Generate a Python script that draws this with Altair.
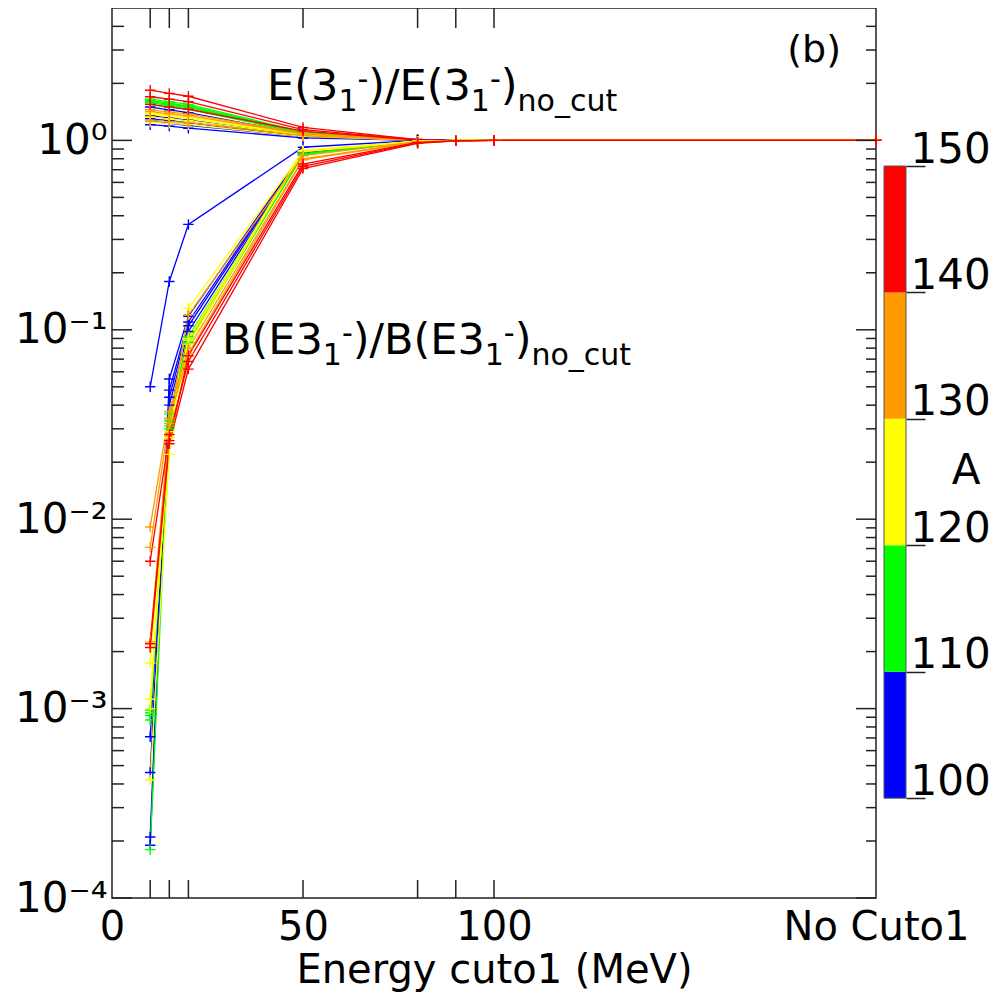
import altair as alt
import pandas as pd

# ---------------- data ----------------
X_CUTS = [10, 15, 20, 50, 80, 90, 100, 200]          # 200 = "No Cuto1"
NUCLEI_A = [100, 102, 104, 106, 108, 110, 112, 114, 116, 118,
            120, 122, 124, 126, 130, 132, 134, 140, 144, 148]

E_RATIO = [
    [1.21, 1.19, 1.16, 1.03, 1.000, 1.0, 1.0, 1.0],
    [1.50, 1.45, 1.40, 1.08, 1.000, 1.0, 1.0, 1.0],
    [1.26, 1.23, 1.20, 1.05, 1.000, 1.0, 1.0, 1.0],
    [1.30, 1.27, 1.24, 1.05, 1.000, 1.0, 1.0, 1.0],
    [1.35, 1.31, 1.28, 1.06, 1.000, 1.0, 1.0, 1.0],
    [1.58, 1.53, 1.49, 1.10, 1.000, 1.0, 1.0, 1.0],
    [1.62, 1.57, 1.52, 1.10, 1.005, 1.0, 1.0, 1.0],
    [1.65, 1.60, 1.55, 1.11, 1.005, 1.0, 1.0, 1.0],
    [1.60, 1.55, 1.51, 1.10, 1.000, 1.0, 1.0, 1.0],
    [1.55, 1.50, 1.46, 1.09, 1.000, 1.0, 1.0, 1.0],
    [1.40, 1.36, 1.33, 1.08, 1.000, 1.0, 1.0, 1.0],
    [1.33, 1.30, 1.27, 1.07, 1.000, 1.0, 1.0, 1.0],
    [1.25, 1.23, 1.21, 1.05, 1.000, 1.0, 1.0, 1.0],
    [1.37, 1.34, 1.31, 1.07, 1.000, 1.0, 1.0, 1.0],
    [1.45, 1.41, 1.38, 1.09, 1.000, 1.0, 1.0, 1.0],
    [1.28, 1.26, 1.24, 1.06, 1.000, 1.0, 1.0, 1.0],
    [1.42, 1.38, 1.35, 1.08, 1.000, 1.0, 1.0, 1.0],
    [1.55, 1.50, 1.46, 1.12, 1.005, 1.0, 1.0, 1.0],
    [1.70, 1.65, 1.60, 1.14, 1.010, 1.0, 1.0, 1.0],
    [1.84, 1.77, 1.71, 1.17, 1.010, 1.0, 1.0, 1.0],
]

B_RATIO = [
    [5.0e-2, 0.180, 0.360, 0.920, 1.000, 1.000, 1.0, 1.0],
    [2.1e-4, 0.055, 0.118, 0.870, 0.995, 1.000, 1.0, 1.0],
    [1.9e-4, 0.048, 0.110, 0.865, 0.995, 1.000, 1.0, 1.0],
    [4.6e-4, 0.044, 0.105, 0.860, 0.995, 1.000, 1.0, 1.0],
    [7.1e-4, 0.040, 0.098, 0.855, 0.995, 1.000, 1.0, 1.0],
    [1.8e-4, 0.036, 0.092, 0.850, 0.990, 1.000, 1.0, 1.0],
    [8.7e-4, 0.034, 0.090, 0.850, 0.990, 1.000, 1.0, 1.0],
    [9.2e-4, 0.033, 0.088, 0.845, 0.990, 1.000, 1.0, 1.0],
    [9.5e-4, 0.031, 0.086, 0.840, 0.990, 1.000, 1.0, 1.0],
    [9.8e-4, 0.030, 0.085, 0.840, 0.990, 1.000, 1.0, 1.0],
    [1.0e-3, 0.029, 0.088, 0.880, 0.990, 1.000, 1.0, 1.0],
    [1.12e-3, 0.028, 0.090, 0.885, 0.990, 1.000, 1.0, 1.0],
    [4.2e-4, 0.022, 0.084, 0.875, 0.990, 1.000, 1.0, 1.0],
    [1.74e-3, 0.027, 0.130, 0.870, 0.990, 1.000, 1.0, 1.0],
    [2.25e-3, 0.032, 0.120, 0.830, 0.985, 0.995, 1.0, 1.0],
    [9.1e-3, 0.037, 0.080, 0.800, 0.980, 0.995, 1.0, 1.0],
    [7.1e-3, 0.034, 0.075, 0.790, 0.980, 0.995, 1.0, 1.0],
    [2.2e-3, 0.026, 0.073, 0.750, 0.975, 0.995, 1.0, 1.0],
    [6.0e-3, 0.028, 0.068, 0.730, 0.970, 0.995, 1.0, 1.0],
    [2.1e-3, 0.025, 0.062, 0.710, 0.965, 0.995, 1.0, 1.0],
]

BIN_EDGES = [100, 110, 120, 130, 140, 150]
BIN_COLORS = ["#0000ff", "#00ff00", "#ffff00", "#ff9a00", "#ff0000"]

Y_MAJOR = [1e-4, 1e-3, 1e-2, 1e-1, 1.0]
Y_LABELS = ["10⁻⁴", "10⁻³", "10⁻²", "10⁻¹", "10⁰"]
Y_MINOR_MULT = [2, 3, 4, 5, 6, 7, 8, 9]
X_TICKS = [0, 50, 100, 200]
X_TICK_LABELS = ["0", "50", "100", "No Cuto1"]
X_MARKS = [10, 15, 20, 50, 80, 90, 100]
CBAR_TICKS = [100, 110, 120, 130, 140, 150]

# ---------------- layout / style ----------------
W, H = 764, 890
FONT = "DejaVu Sans"
FRAME = "#222222"

rows = []
for fam, table in (("E", E_RATIO), ("B", B_RATIO)):
    for a, vals in zip(NUCLEI_A, table):
        for x, v in zip(X_CUTS, vals):
            rows.append({"x": x, "y": v, "A": a, "series": f"{fam}{a}"})
df = pd.DataFrame(rows)

y_minor = [m * d for d in Y_MAJOR[:-1] for m in Y_MINOR_MULT] + [2.0, 3.0, 4.0]

xs = alt.Scale(domain=[0, 200], nice=False, zero=False)
ys = alt.Scale(type="log", domain=[1e-4, 5], nice=False)
cs = alt.Scale(type="threshold", domain=BIN_EDGES[1:-1], range=BIN_COLORS)

y_expr = ""
for v, lab in zip(Y_MAJOR[:-1], Y_LABELS[:-1]):
    y_expr += f"datum.value < {v * 3} ? '{lab}' : "
y_expr += f"'{Y_LABELS[-1]}'"

x_expr = ""
for v, lab in zip(X_TICKS[:-1], X_TICK_LABELS[:-1]):
    x_expr += f"datum.value < {v + 1} ? '{lab}' : "
x_expr += f"'{X_TICK_LABELS[-1]}'"

x_axis = alt.Axis(values=X_TICKS, labelExpr=x_expr, ticks=False, domain=False, grid=False,
                  labelFontSize=40, labelPadding=9, labelFlush=False, labelOverlap=False,
                  labelLimit=400,
                  title="Energy cuto1 (MeV)", titleFontSize=40, titlePadding=3)
y_axis = alt.Axis(values=Y_MAJOR, labelExpr=y_expr, ticks=False, domain=False, grid=False,
                  labelFontSize=42, labelPadding=5, labelOverlap=False, title=None)


def X(field):
    return alt.X(field, scale=xs, axis=x_axis)


def Y(field):
    return alt.Y(field, scale=ys, axis=y_axis)


base = alt.Chart(df)
lines = base.mark_line(strokeWidth=1.3).encode(
    x=X("x:Q"), y=Y("y:Q"),
    color=alt.Color("A:Q", scale=cs, legend=None),
    detail="series:N",
    order="x:Q",
)
points = base.mark_point(shape="M-1,0H1M0,-1V1", filled=False, size=110, strokeWidth=1.4, opacity=1).encode(
    x=X("x:Q"), y=Y("y:Q"),
    color=alt.Color("A:Q", scale=cs, legend=None),
)

ymaj_df = pd.DataFrame({"v": Y_MAJOR})
ymin_df = pd.DataFrame({"v": y_minor})
xmk_df = pd.DataFrame({"v": X_MARKS})


def yticks(data, x0, x1):
    return alt.Chart(data).mark_rule(color=FRAME, strokeWidth=1.5).encode(
        y=Y("v:Q"), x=alt.value(x0), x2=alt.value(x1))


def xticks(data, y0, y1):
    return alt.Chart(data).mark_rule(color=FRAME, strokeWidth=1.5).encode(
        x=X("v:Q"), y=alt.value(y0), y2=alt.value(y1))


tick_layers = [
    yticks(ymaj_df, 0, 20), yticks(ymin_df, 0, 12),
    yticks(ymaj_df, W - 20, W), yticks(ymin_df, W - 10, W),
    xticks(xmk_df, 0, 20), xticks(xmk_df, H - 18, H),
]

# ---- annotations (text with sub/superscripts built from pieces) ----
ADV = {"E": 0.632, "(": 0.390, ")": 0.390, "3": 0.636, "1": 0.636, "/": 0.337, "B": 0.686,
       "-": 0.361, "n": 0.634, "o": 0.612, "_": 0.500, "c": 0.550, "u": 0.634, "t": 0.392, "b": 0.635}
F_MAIN, F_SUB, SUB_DY, SUP_DY = 43, 30, 11, -11


def rich_label(x, y, parts):
    d = pd.DataFrame({"x": [x], "y": [y]})
    layers, dx = [], 0.0
    for txt, kind in parts:
        size = F_MAIN if kind == "n" else F_SUB
        dy = {"n": 0, "sub": SUB_DY, "sup": SUP_DY}[kind]
        layers.append(alt.Chart(d).mark_text(text=txt, font=FONT, fontSize=size, dx=dx, dy=dy,
                                             align="left", baseline="alphabetic", color="black").encode(
            x=X("x:Q"), y=Y("y:Q")))
        dx += sum(ADV.get(ch, 0.6) for ch in txt) * size
    return layers


E_LABEL_POS = (40.6, 1.63)
B_LABEL_POS = (28.8, 0.0745)
B_TAG_POS = (183.8, 2.58)

e_parts = [("E(3", "n"), ("1", "sub"), ("-", "sup"), (")/E(3", "n"), ("1", "sub"), ("-", "sup"),
           (")", "n"), ("no_cut", "sub")]
b_parts = [("B(E3", "n"), ("1", "sub"), ("-", "sup"), (")/B(E3", "n"), ("1", "sub"), ("-", "sup"),
           (")", "n"), ("no_cut", "sub")]

tag = alt.Chart(pd.DataFrame({"x": [B_TAG_POS[0]], "y": [B_TAG_POS[1]]})).mark_text(
    text="(b)", font=FONT, fontSize=38, align="center", baseline="alphabetic", color="black").encode(
    x=X("x:Q"), y=Y("y:Q"))

inner = alt.layer(lines, points, *tick_layers,
                  *rich_label(*E_LABEL_POS, e_parts), *rich_label(*B_LABEL_POS, b_parts), tag)

# ---- colour bar ----
CBAR_DOMAIN = [92.1, 162.5]
cb_scale = alt.Scale(domain=CBAR_DOMAIN, nice=False, zero=False)
cbar_df = pd.DataFrame({"lo": BIN_EDGES[:-1], "hi": BIN_EDGES[1:]})
cbar = alt.Chart(cbar_df).mark_rect().encode(
    y=alt.Y("lo:Q", scale=cb_scale,
            axis=alt.Axis(orient="right", values=CBAR_TICKS, offset=30, domain=False, grid=False,
                          ticks=True, tickSize=19, tickColor=FRAME, tickWidth=1.5,
                          labelPadding=-15, labelBaseline="alphabetic", labelOffset=-4,
                          labelAlign="left", labelFontSize=42, labelOverlap=False,
                          title="A", titleAngle=0, titleFontSize=42, titleX=74, titleY=462,
                          titleAlign="right", titleBaseline="middle")),
    y2="hi:Q",
    x=alt.value(W + 8), x2=alt.value(W + 30),
    color=alt.Color("lo:Q", scale=cs, legend=None),
)
cbar_frame = alt.Chart(pd.DataFrame({"lo": [BIN_EDGES[0]], "hi": [BIN_EDGES[-1]]})).mark_rect(
    fillOpacity=0, stroke="#555555", strokeWidth=1).encode(
    y=alt.Y("lo:Q", scale=cb_scale), y2="hi:Q",
    x=alt.value(W + 8), x2=alt.value(W + 30),
)
cbar_layer = alt.layer(cbar, cbar_frame)

chart = alt.layer(inner, cbar_layer).resolve_scale(y="independent").properties(
    width=W, height=H,
    padding={"left": 104, "top": 0, "right": 120, "bottom": 94},
    autosize=alt.AutoSizeParams(type="none"),
).configure_view(stroke=FRAME, strokeWidth=1.5).configure_axis(
    labelFont=FONT, titleFont=FONT, labelColor="black", titleColor="black",
    titleFontWeight="normal", labelFontWeight="normal")

chart.save("out.html", embed_options={"renderer": "svg", "actions": False})
